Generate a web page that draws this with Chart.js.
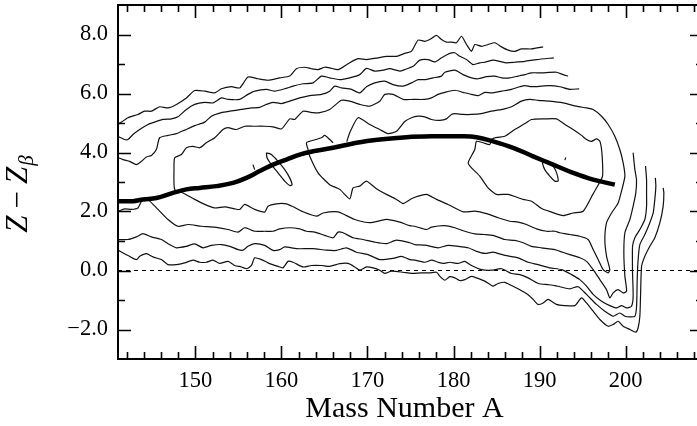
<!DOCTYPE html>
<html>
<head>
<meta charset="utf-8">
<script src="https://cdn.jsdelivr.net/npm/chart.js@4.4.1/dist/chart.umd.min.js"></script>
<style>
  html, body { margin: 0; padding: 0; background: #fff; overflow: hidden; }
  canvas { display: block; }
</style>
</head>
<body>
<canvas id="chart" width="705" height="426"></canvas>
<script>
// Axis ranges and labelled ticks
const xRange = [141, 209];
const yRange = [-3, 9];
const xTickLabels = [150, 160, 170, 180, 190, 200];
const yTickLabels = [-2, 0, 2, 4, 6, 8];

// Thick curve (most probable charge)
const zpLine = [[141,2.35],[142.74,2.35],[143.9,2.41],[145.46,2.46],[147.39,2.63],[148.95,2.75],[150.5,2.8],[152.44,2.86],[154.37,2.97],[155.93,3.14],[157.47,3.37],[159.02,3.59],[160.58,3.76],[162.12,3.93],[163.67,4.04],[166,4.16],[168.72,4.33],[171.43,4.44],[174.53,4.52],[177.63,4.55],[180.73,4.55],[182.67,4.52],[184.6,4.38],[186.93,4.16],[189.25,3.87],[191.58,3.59],[193.9,3.31],[196.23,3.08],[198.75,2.91]];

// Upper contours (open on the right)
const upper1 = [[141,4.95],[142.16,5.18],[143.32,5.29],[144.1,5.4],[144.88,5.4],[145.84,5.55],[146.81,5.51],[147.79,5.63],[148.95,5.85],[149.91,6.1],[151.08,6.08],[152.24,6.02],[153.02,6.16],[154.18,6.23],[155.15,6.19],[156.11,6.56],[157.27,6.5],[158.44,6.45],[159.8,6.53],[160.96,6.59],[161.74,6.84],[162.7,6.89],[163.48,6.84],[164.25,6.81],[165.03,6.89],[165.61,6.87],[166.58,6.81],[167.74,7.01],[168.9,7.18],[169.88,7.15],[171.23,7.21],[172.2,7.26],[173.37,7.26],[174.33,7.36],[175.11,7.43],[175.88,7.81],[176.66,7.77],[177.24,7.83],[178.02,7.97],[178.6,7.83],[179.18,7.74],[179.76,7.74],[180.34,7.72],[180.93,7.94],[181.51,7.66],[182.09,7.43],[182.47,7.66],[183.25,7.6],[184.02,7.66],[184.8,7.72],[185.58,7.58],[186.35,7.47],[187.12,7.43],[187.9,7.51],[189.07,7.51],[190.42,7.58]];
const upper2 = [[141,4.54],[141.77,4.44],[142.16,4.44],[142.74,4.61],[143.52,4.78],[144.48,4.95],[145.26,5.03],[146.23,5.12],[147.21,5.14],[147.97,5.21],[148.95,5.46],[149.91,5.63],[151.08,5.7],[152.04,5.68],[153.02,5.85],[153.79,5.8],[155.15,5.8],[156.11,5.97],[156.89,6.08],[158.25,6.14],[159.22,6.08],[160.38,6.16],[161.34,6.25],[162.51,6.33],[163.67,6.36],[164.65,6.59],[165.61,6.53],[166.78,6.47],[167.94,6.53],[169.1,6.64],[169.88,6.85],[170.84,6.76],[171.81,6.79],[172.59,6.84],[173.75,6.76],[174.33,6.81],[175.3,6.92],[176.08,7.13],[177.04,7.15],[177.82,7.07],[178.6,7.21],[179.57,7.36],[180.15,7.38],[180.73,7.26],[181.51,7.15],[182.28,6.98],[183.05,7.04],[183.64,7.06],[184.6,7.13],[185.38,7.09],[186.16,7.04],[187.12,7.06],[188.29,7.09],[189.65,7.15],[191.66,7.21]];
const upper3 = [[141,3.83],[141.58,3.76],[142.36,3.7],[143.14,3.59],[143.72,3.7],[144.3,3.85],[144.88,3.9],[145.46,4.1],[145.84,4.5],[146.81,4.58],[147.79,4.64],[148.75,4.76],[149.91,4.91],[151.08,5.03],[151.86,5.23],[153.02,5.35],[153.99,5.4],[155.35,5.46],[156.51,5.51],[157.47,5.53],[158.25,5.63],[159.02,5.7],[160,5.66],[160.96,5.74],[162.12,5.85],[163.29,5.93],[164.65,5.97],[165.61,6.08],[166.19,6.25],[166.97,6.19],[168.14,6.14],[169.1,6.02],[169.88,6.23],[170.84,6.36],[172.01,6.42],[172.97,6.3],[174.14,6.25],[175.11,6.36],[175.88,6.47],[176.66,6.47],[177.62,6.53],[178.6,6.59],[178.99,6.72],[180.15,6.79],[181.11,6.64],[182.09,6.53],[182.86,6.5],[183.83,6.57],[184.8,6.59],[185.58,6.53],[186.54,6.53],[187.51,6.59],[188.29,6.64],[189.07,6.7],[190.23,6.7],[191.97,6.72],[192.74,6.64],[193.32,6.59]];

// Contour that runs along the top, down at A~148, and out along the bottom
const contour4 = [[194.6,6.16],[193.52,6.14],[192.36,6.23],[191.19,6.27],[190.23,6.25],[189.07,6.23],[188.29,6.27],[187.71,6.23],[186.74,6.14],[185.58,6.08],[184.42,6.02],[183.64,6.04],[182.86,5.93],[182.09,5.97],[181.11,6.04],[180.15,6.11],[178.99,6.04],[178.21,5.97],[177.44,5.85],[176.66,5.8],[175.3,5.8],[174.14,5.8],[172.97,5.97],[172.01,5.97],[171.43,5.74],[170.26,5.57],[169.1,5.63],[167.94,5.74],[166.97,5.77],[165.61,5.46],[164.45,5.35],[163.67,5.35],[162.51,5.4],[161.54,5.12],[160.96,5.14],[160,4.8],[159.02,4.87],[158.05,4.89],[156.69,4.89],[155.73,4.89],[154.76,4.78],[153.79,4.84],[153.2,4.78],[152.24,4.5],[151.27,4.33],[150.5,4.16],[149.72,4.21],[148.95,4.16],[148.37,3.93],[147.59,3.82],[147.51,3.42],[147.59,2.75],[148.55,2.63],[149.92,2.41],[151.08,2.24],[152.24,2.12],[153.4,2.16],[154.57,2.09],[155.15,2.07],[155.73,2.24],[156.89,2.07],[158.05,1.98],[158.44,2.18],[159.41,2.26],[160.58,2.26],[161.35,2.16],[162.51,1.99],[164.07,1.84],[164.84,1.95],[166.58,1.99],[167.55,1.86],[168.52,1.73],[170.26,1.62],[172.2,1.73],[173.75,1.64],[174.92,1.52],[175.5,1.5],[176.86,1.39],[177.44,1.47],[178.99,1.52],[180.15,1.45],[181.31,1.33],[182.47,1.24],[183.64,1.22],[184.6,1.19],[185.96,1.05],[187.12,1.02],[188.09,0.94],[189.07,0.82],[190.23,0.77],[191.78,0.71],[192.36,0.65],[193.52,0.54],[194.68,0.43],[195.46,0.31],[196.23,0.03],[197.01,-0.31],[197.79,-0.65],[198.17,-0.93],[198.56,-0.76],[199.14,-0.65],[199.72,-0.76],[200.12,-0.7],[199.92,-0.19],[199.8,0.6],[199.92,1.28],[200.5,1.73],[200.88,2.18],[201.19,2.63],[201.27,3.08],[201.08,3.42],[200.88,3.99]];

// Middle loop, broken by the thick curve
const contour5 = [[165.99,4.33],[165.61,4.44],[165.03,4.58],[164.65,4.5],[163.29,4.38],[162.9,4.33],[163.09,4.1],[163.29,3.87],[164.25,3.31],[165.61,2.91],[166.78,2.75],[167.94,2.43],[168.32,2.8],[169.1,2.86],[169.88,3.03],[171.04,2.77],[172.2,2.58],[173.37,2.41],[174.14,2.27],[175.11,2.43],[175.88,2.52],[176.86,2.58],[178.02,2.41],[179.37,2.24],[181.11,1.99],[182.47,2.01],[183.83,1.93],[185.18,1.79],[186.54,1.67],[187.51,1.64],[188.48,1.56],[189.65,1.41],[190.81,1.33],[191.78,1.33],[192.36,1.28],[193.52,1.22],[194.68,1.16],[195.65,1.05],[196.23,0.71],[196.81,0.37],[197.39,0.03],[197.98,-0.08],[198.17,0.03],[197.79,0.48],[197.59,1.05],[197.79,1.62],[198.37,1.95],[199.14,2.29],[199.57,2.74],[199.92,3.2],[199.72,3.65],[199.33,4.1],[198.75,4.55],[197.98,4.95],[197.21,5.23],[196.23,5.46],[195.46,5.51],[194.3,5.57],[192.74,5.68],[191.19,5.74],[189.84,5.77],[188.87,5.8],[187.9,5.74],[186.74,5.55],[185.96,5.48],[184.42,5.4],[183.25,5.32],[182.09,5.29],[181.11,5.29],[180.15,5.32],[179.76,5.29],[179.18,5.14],[178.4,5.09],[177.44,5.12],[176.66,5.21],[175.88,5.23],[175.11,5.18],[174.33,5.05],[173.37,4.72],[172.39,4.64],[171.43,4.78],[170.26,4.95],[168.9,5.18],[167.94,4.67],[167.59,4.37]];

// Inner closed loop on the right
const blob = [[184.8,4.5],[185.96,4.55],[187.12,4.78],[188.29,4.98],[189.07,5.12],[190.61,5.14],[191.97,5.14],[192.94,4.95],[193.9,4.78],[194.88,4.58],[195.46,4.44],[196.04,4.38],[196.62,4.46],[197.01,4.38],[197.21,4.1],[197.32,3.65],[197.32,3.2],[196.78,2.88],[196.19,2.58],[195.07,2.01],[193.9,1.95],[192.74,1.86],[191.39,1.98],[190.23,2.1],[189.07,2.35],[188.09,2.41],[186.35,2.58],[184.99,2.58],[184.02,2.8],[183.05,3.2],[182.09,3.48],[181.7,3.65],[182.47,4.1],[182.67,4.38],[183.44,4.33],[184.22,4.27],[184.42,4.44],[184.8,4.5]];

// Lower contours (dip near A~200 then rise)
const lower1 = [[141,2.0],[141.77,2.09],[142.55,2.07],[143.32,2.12],[143.72,2.34],[144.1,2.47],[144.48,2.41],[145.65,2.07],[146.81,1.73],[147.97,1.5],[149.14,1.56],[150.69,1.5],[152.24,1.47],[153.79,1.39],[154.95,1.3],[155.73,1.45],[156.89,1.33],[158.05,1.33],[159.02,1.33],[159.8,1.41],[160.96,1.45],[162.12,1.41],[162.9,1.33],[163.87,1.3],[165.03,1.19],[166,1.11],[166.58,1.3],[167.16,1.28],[168.32,1.11],[169.49,1.05],[170.85,0.96],[172.2,0.91],[173.37,1.03],[174.92,0.94],[175.5,0.88],[176.66,0.86],[178.21,0.77],[179.37,0.85],[180.53,0.82],[181.7,0.77],[182.67,0.65],[183.64,0.58],[184.6,0.62],[185.96,0.51],[187.51,0.43],[188.67,0.28],[189.84,0.2],[191.19,0.09],[192.55,0.03],[193.72,-0.14],[194.68,-0.31],[195.46,-0.53],[196.23,-0.81],[197.21,-1.04],[198.17,-1.19],[198.95,-1.27],[199.53,-1.19],[200.12,-1.27],[200.69,-1.21],[200.88,-0.87],[200.81,-0.08],[200.81,0.82],[201.08,1.11],[201.66,1.39],[202.24,1.73],[202.44,2.18],[202.44,2.63],[202.44,3.08],[202.32,3.54]];
const lower2 = [[141,1.05],[142.16,1.05],[143.14,1.14],[143.9,1.25],[144.88,1.14],[146.04,1.05],[146.81,0.91],[147.79,0.77],[148.95,0.82],[149.91,0.9],[150.88,0.77],[151.86,0.85],[153.02,0.88],[153.99,0.82],[154.95,0.71],[155.53,0.69],[156.11,0.82],[156.89,0.91],[158.05,0.85],[159.02,0.68],[159.8,0.71],[160.38,0.8],[161.74,0.74],[163.67,0.74],[165.23,0.69],[166.39,0.68],[167.55,0.77],[168.72,0.62],[170.06,0.54],[171.43,0.37],[172.97,0.41],[173.95,0.48],[174.92,0.37],[175.5,0.35],[176.66,0.28],[177.44,0.35],[178.21,0.28],[178.79,0.24],[179.57,0.28],[180.53,0.24],[181.31,0.31],[182.09,0.17],[183.25,0.03],[184.42,0.01],[185.58,0.06],[186.74,-0.1],[187.71,-0.14],[188.67,-0.25],[189.84,-0.44],[191,-0.48],[191.78,-0.51],[192.36,-0.55],[193.52,-0.62],[194.49,-0.55],[195.46,-0.81],[196.62,-1.15],[197.59,-1.38],[198.56,-1.55],[199.33,-1.44],[199.92,-1.55],[200.5,-1.57],[201.08,-1.55],[201.28,-1.21],[201.35,-0.31],[201.46,0.37],[201.66,0.88],[202.24,1.22],[202.82,1.62],[203.21,1.95],[203.4,2.41],[203.52,2.86],[203.46,3.14]];
const lower3 = [[141,0.69],[142.16,0.51],[143.14,0.37],[143.52,0.48],[144.3,0.57],[145.07,0.46],[146.04,0.37],[146.81,0.2],[147.79,0.2],[148.75,0.26],[149.72,0.35],[150.5,0.28],[151.27,0.28],[152.04,0.35],[152.82,0.24],[153.79,0.31],[154.57,0.17],[155.35,0.12],[155.93,0.06],[156.51,0.17],[156.89,0.43],[157.67,0.37],[158.44,0.26],[159.6,0.14],[160.18,0.09],[160.76,0.31],[161.35,0.28],[162.51,0.12],[163.48,0.17],[164.65,0.17],[165.61,0.14],[166.78,0.23],[167.74,0.24],[168.52,0.12],[169.1,0.01],[169.88,0.12],[170.65,0.09],[171.43,0.01],[172.01,-0.1],[172.79,-0.02],[174.14,-0.06],[175.11,-0.1],[176.28,-0.08],[177.24,-0.08],[178.02,-0.06],[178.4,-0.19],[178.99,-0.33],[179.57,-0.21],[180.15,-0.25],[180.73,-0.34],[181.31,-0.31],[182.09,-0.2],[182.67,-0.25],[183.64,-0.36],[184.6,-0.53],[185.18,-0.44],[185.96,-0.4],[186.74,-0.51],[187.71,-0.65],[188.67,-0.82],[189.25,-0.98],[189.84,-1.15],[190.42,-1.1],[191,-0.98],[191.97,-1.15],[192.94,-1.19],[194.1,-1.19],[194.88,-0.93],[195.46,-1.1],[196.23,-1.38],[197.01,-1.66],[197.98,-1.89],[198.56,-1.83],[199.14,-1.72],[199.72,-1.89],[200.5,-2.0],[201.19,-2.09],[201.46,-1.94],[201.66,-1.55],[201.74,-0.87],[201.86,0.14],[202.24,0.48],[202.82,0.82],[203.4,1.11],[203.99,1.62],[204.37,2.18],[204.45,2.63],[204.37,2.8]];

// Small islands and stubs
const islandLeft = [[158.25,3.99],[158.83,3.93],[159.6,3.7],[160.38,3.42],[160.96,3.14],[161.23,2.91],[160.96,2.88],[160.38,3.03],[159.6,3.31],[158.83,3.59],[158.32,3.82],[158.25,3.99]];
const islandRight = [[190.42,3.76],[191,3.7],[191.58,3.54],[191.98,3.31],[192.16,3.03],[191.78,3.03],[191.19,3.2],[190.61,3.42],[190.34,3.65],[190.42,3.76]];
const stubLeft = [[156.69,3.59],[156.89,3.42]];
const stubRight = [[192.94,3.74],[193.05,3.83]];
const zeroLine = [[141,0],[209,0]];

const toPts = arr => arr.map(([x, y]) => ({ x, y }));

function thin(arr) {
    return {
        data: toPts(arr),
        showLine: true,
        pointRadius: 0,
        borderColor: '#111',
        borderWidth: 1.2,
        tension: 0.2,
        fill: false
    };
}

const datasets = [
    { data: toPts(zpLine), showLine: true, pointRadius: 0, borderColor: '#000', borderWidth: 4.5, tension: 0.4, fill: false },
    thin(upper1), thin(upper2), thin(upper3),
    thin(contour4), thin(contour5), thin(blob),
    thin(lower1), thin(lower2), thin(lower3),
    thin(islandLeft), thin(islandRight), thin(stubLeft), thin(stubRight),
    { data: toPts(zeroLine), showLine: true, pointRadius: 0, borderColor: '#000', borderWidth: 1, borderDash: [4, 4], tension: 0 }
];

const SERIF = '"Liberation Serif", "DejaVu Serif", serif';

// frame, inward ticks, tick labels and axis titles
const framePlugin = {
    id: 'frame',
    afterDraw(chart) {
        const { ctx, chartArea: a, scales: { x, y } } = chart;
        ctx.save();
        ctx.strokeStyle = '#000';
        ctx.lineWidth = 2;
        ctx.strokeRect(a.left, a.top, a.right - a.left, a.bottom - a.top);

        ctx.lineWidth = 1.6;
        ctx.beginPath();
        for (let v = 142; v < xRange[1]; v += 2) {
            const px = Math.round(x.getPixelForValue(v)) + 0.5;
            const len = v % 10 === 0 ? 13 : 7;
            ctx.moveTo(px, a.bottom); ctx.lineTo(px, a.bottom - len);
            ctx.moveTo(px, a.top); ctx.lineTo(px, a.top + len);
        }
        for (let v = -2; v < yRange[1]; v += 1) {
            const py = Math.round(y.getPixelForValue(v)) + 0.5;
            const len = v % 2 === 0 ? 13 : 7;
            ctx.moveTo(a.left, py); ctx.lineTo(a.left + len, py);
            ctx.moveTo(a.right, py); ctx.lineTo(a.right - len, py);
        }
        ctx.stroke();

        ctx.fillStyle = '#000';
        ctx.font = '22.5px ' + SERIF;
        ctx.textBaseline = 'middle';
        ctx.textAlign = 'center';
        xTickLabels.forEach(v => {
            ctx.fillText(String(v), x.getPixelForValue(v), a.bottom + 22);
        });
        ctx.textAlign = 'right';
        yTickLabels.forEach(v => {
            const s = (v < 0 ? '\u2212' : '') + Math.abs(v).toFixed(1);
            ctx.fillText(s, a.left - 10, y.getPixelForValue(v));
        });

        // x title
        ctx.font = '30px ' + SERIF;
        ctx.textAlign = 'center';
        ctx.fillText('Mass Number A', (a.left + a.right) / 2 - 6, a.bottom + 50);

        // y title: Z − Z_beta
        ctx.translate(19, 194);
        ctx.rotate(-Math.PI / 2);
        const parts = [
            { t: 'Z', f: 'italic 31px ' + SERIF, dy: 0, gap: 7 },
            { t: '\u2212', f: '31px ' + SERIF, dy: 0, gap: 7 },
            { t: 'Z', f: 'italic 31px ' + SERIF, dy: 0, gap: 1 },
            { t: '\u03b2', f: 'italic 21px ' + SERIF, dy: 8, gap: 0 }
        ];
        let total = 0;
        parts.forEach(p => { ctx.font = p.f; p.w = ctx.measureText(p.t).width; total += p.w + p.gap; });
        let cx = -total / 2;
        ctx.textAlign = 'left';
        parts.forEach(p => {
            ctx.font = p.f;
            ctx.fillText(p.t, cx, p.dy);
            cx += p.w + p.gap;
        });
        ctx.restore();
    }
};

new Chart(document.getElementById('chart'), {
    type: 'scatter',
    data: { datasets },
    options: {
        responsive: false,
        animation: false,
        devicePixelRatio: 1,
        layout: { padding: { top: 5, right: 2, left: 0, bottom: 0 } },
        plugins: { legend: { display: false }, tooltip: { enabled: false } },
        scales: {
            x: {
                type: 'linear',
                min: xRange[0],
                max: xRange[1],
                grid: { display: false, drawTicks: false },
                border: { display: false },
                ticks: { display: false },
                afterFit: s => { s.height = 67; }
            },
            y: {
                type: 'linear',
                min: yRange[0],
                max: yRange[1],
                grid: { display: false, drawTicks: false },
                border: { display: false },
                ticks: { display: false },
                afterFit: s => { s.width = 118; }
            }
        }
    },
    plugins: [framePlugin]
});
</script>
</body>
</html>
